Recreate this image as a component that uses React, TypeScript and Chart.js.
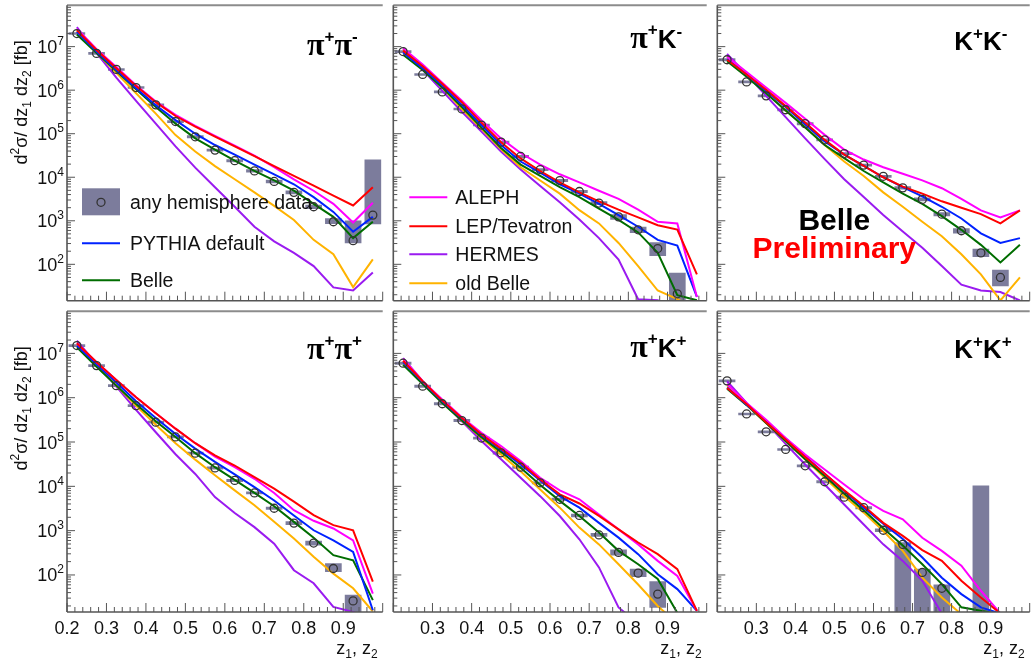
import React, { useEffect, useRef } from 'react';
import { Chart, registerables } from 'chart.js';

Chart.register(...registerables);

const SANS = '"Liberation Sans", Arial, Helvetica, sans-serif';
const SERIF = '"Liberation Serif", "DejaVu Serif", "Times New Roman", serif';
Chart.defaults.font.family = SANS;

// ---------- data ----------
const zBins = [0.225, 0.275, 0.325, 0.375, 0.425, 0.475, 0.525, 0.575, 0.625, 0.675, 0.725, 0.775, 0.825, 0.875, 0.925, 0.975];
const xTickLabelsFull = ['0.2', '0.3', '0.4', '0.5', '0.6', '0.7', '0.8', '0.9'];
const xTickLabelsShort = ['0.3', '0.4', '0.5', '0.6', '0.7', '0.8', '0.9'];
const yTickExponents = [2, 3, 4, 5, 6, 7];

// pi+ pi-
const pipiUData = [2.0e7, 7.0e6, 3.0e6, 1.15e6, 4.6e5, 1.9e5, 8.5e4, 4.2e4, 2.4e4, 1.4e4, 8.0e3, 4.5e3, 2.1e3, 950, 350, 1350];
const pipiUBoxLo = [1.9e7, 6.6e6, 2.85e6, 1.09e6, 4.35e5, 1.8e5, 8.0e4, 3.95e4, 2.25e4, 1.3e4, 7.4e3, 4.15e3, 1.9e3, 860, 310, 850];
const pipiUBoxHi = [2.1e7, 7.4e6, 3.15e6, 1.21e6, 4.85e5, 2.0e5, 9.0e4, 4.45e4, 2.55e4, 1.5e4, 8.6e3, 4.85e3, 2.3e3, 1120, 1000, 2.5e4];
const pipiUAleph = [2.6e7, 8.7e6, 3.4e6, 1.3e6, 5.5e5, 2.7e5, 1.52e5, 8.9e4, 5.3e4, 3.15e4, 1.7e4, 8.9e3, 4.9e3, 2.45e3, 910, 2.6e3];
const pipiULepTev = [2.4e7, 8.4e6, 3.2e6, 1.25e6, 5.3e5, 2.55e5, 1.45e5, 8.6e4, 5.1e4, 3.05e4, 1.8e4, 1.08e4, 6.4e3, 3.8e3, 2.25e3, 5.9e3];
const pipiUHermes = [2.8e7, 7.1e6, 1.94e6, 5.7e5, 1.7e5, 5.1e4, 1.66e4, 5.9e3, 2.1e3, 730, 337, 183, 91, 29.5, 25, 65];
const pipiUOldBelle = [2.3e7, 7.3e6, 2.5e6, 8.5e5, 2.9e5, 9.3e4, 3.9e4, 1.8e4, 9.0e3, 4.5e3, 2.2e3, 1.04e3, 365, 170, 30, 130];
const pipiUPythia = [2.2e7, 7.7e6, 2.9e6, 1.1e6, 4.5e5, 2.05e5, 1.0e5, 5.5e4, 3.3e4, 1.95e4, 1.17e4, 6.9e3, 3.5e3, 1.6e3, 560, 1.23e3];
const pipiUBelle = [1.9e7, 7.1e6, 2.75e6, 1.05e6, 4.1e5, 1.7e5, 7.8e4, 4.3e4, 2.4e4, 1.4e4, 8.5e3, 4.9e3, 2.45e3, 1.23e3, 400, 950];

// pi+ K-
const piKUData = [7.7e6, 2.3e6, 9.1e5, 3.7e5, 1.58e5, 6.4e4, 3.0e4, 1.5e4, 8.4e3, 4.7e3, 2.55e3, 1.23e3, 620, 230, 21, null];
const piKUBoxLo = [7.3e6, 2.18e6, 8.6e5, 3.5e5, 1.5e5, 6.05e4, 2.83e4, 1.41e4, 7.9e3, 4.4e3, 2.35e3, 1.08e3, 530, 158, 12, null];
const piKUBoxHi = [8.1e6, 2.42e6, 9.6e5, 3.9e5, 1.66e5, 6.75e4, 3.17e4, 1.59e4, 8.9e3, 5.0e3, 2.75e3, 1.38e3, 720, 316, 63, null];
const piKUAleph = [9.2e6, 3.9e6, 1.49e6, 5.7e5, 2.05e5, 7.8e4, 3.6e4, 1.95e4, 1.17e4, 7.6e3, 4.9e3, 3.2e3, 1.8e3, 950, 870, 17.8];
const piKULepTev = [8.1e6, 3.55e6, 1.41e6, 5.3e5, 1.8e5, 6.4e4, 2.7e4, 1.39e4, 7.6e3, 4.5e3, 2.8e3, 1.8e3, 1.2e3, 790, 630, 59];
const piKUHermes = [8.7e6, 2.95e6, 9.6e5, 3.2e5, 1.12e5, 3.9e4, 1.5e4, 6.3e3, 2.65e3, 1.07e3, 400, 129, 15.8, 14.9, 9, 8];
const piKUOldBelle = [8.7e6, 3.2e6, 1.15e6, 3.7e5, 1.29e5, 4.4e4, 1.7e4, 8.4e3, 4.2e3, 1.75e3, 870, 310, 91, 25, 15.8, 9.5];
const piKUPythia = [7.3e6, 3.2e6, 1.3e6, 4.6e5, 1.58e5, 5.5e4, 2.3e4, 1.28e4, 6.9e3, 4.2e3, 2.45e3, 1.35e3, 730, 365, 270, 17.8];
const piKUBelle = [6.5e6, 2.9e6, 1.15e6, 4.1e5, 1.38e5, 4.7e4, 1.95e4, 1.07e4, 5.9e3, 3.5e3, 1.9e3, 1.05e3, 540, 183, 19.5, 14.9];

// K+ K-
const KKUData = [5.0e6, 1.55e6, 7.4e5, 3.55e5, 1.7e5, 7.2e4, 3.5e4, 1.9e4, 1.05e4, 5.7e3, 3.1e3, 1.42e3, 590, 183, 50, null];
const KKUBoxLo = [4.7e6, 1.46e6, 7.0e5, 3.35e5, 1.6e5, 6.8e4, 3.3e4, 1.79e4, 9.9e3, 5.3e3, 2.85e3, 1.3e3, 520, 150, 32, null];
const KKUBoxHi = [5.3e6, 1.64e6, 7.8e5, 3.75e5, 1.8e5, 7.6e4, 3.7e4, 2.01e4, 1.11e4, 6.1e3, 3.35e3, 1.55e3, 660, 225, 74, null];
const KKUAleph = [5.9e6, 2.6e6, 1.15e6, 5.1e5, 2.2e5, 9.4e4, 4.3e4, 2.55e4, 1.7e4, 1.2e4, 8.5e3, 5.6e3, 3.2e3, 1.73e3, 1.2e3, 1.73e3];
const KKULepTev = [5.0e6, 2.3e6, 1.02e6, 4.3e5, 1.8e5, 7.2e4, 3.3e4, 1.83e4, 1.0e4, 6.1e3, 4.2e3, 2.8e3, 2.0e3, 1.42e3, 870, 1.73e3];
const KKUHermes = [6.8e6, 2.3e6, 7.4e5, 2.4e5, 7.8e4, 2.6e4, 9.0e3, 3.5e3, 1.35e3, 565, 240, 91, 34, 25, 23, 14.8];
const KKUOldBelle = [5.9e6, 2.3e6, 8.9e5, 3.4e5, 1.44e5, 5.5e4, 2.3e4, 1.07e4, 4.5e3, 2.1e3, 950, 440, 170, 59, 14.8, 50];
const KKUPythia = [5.2e6, 2.3e6, 9.6e5, 4.1e5, 1.62e5, 6.6e4, 3.3e4, 1.83e4, 1.0e4, 5.9e3, 3.65e3, 2.1e3, 1.13e3, 515, 310, 400];
const KKUBelle = [4.6e6, 2.04e6, 8.5e5, 3.4e5, 1.38e5, 5.5e4, 2.75e4, 1.39e4, 7.6e3, 4.2e3, 2.45e3, 1.28e3, 620, 280, 110, 280];

// pi+ pi+
const pipiLData = [1.5e7, 5.3e6, 1.87e6, 6.6e5, 2.8e5, 1.3e5, 5.6e4, 2.6e4, 1.36e4, 7.1e3, 3.2e3, 1.48e3, 525, 140, 26, null];
const pipiLBoxLo = [1.42e7, 5.0e6, 1.77e6, 6.25e5, 2.65e5, 1.23e5, 5.3e4, 2.45e4, 1.28e4, 6.7e3, 3.0e3, 1.36e3, 470, 118, 12, null];
const pipiLBoxHi = [1.58e7, 5.6e6, 1.97e6, 6.95e5, 2.95e5, 1.37e5, 5.9e4, 2.75e4, 1.44e4, 7.5e3, 3.4e3, 1.6e3, 580, 180, 35, null];
const pipiLAleph = [1.7e7, 6.3e6, 2.5e6, 1.02e6, 4.45e5, 2.0e5, 9.4e4, 4.7e4, 2.7e4, 1.48e4, 7.1e3, 2.9e3, 1.67e3, 1.12e3, 600, 38];
const pipiLLepTev = [1.7e7, 6.3e6, 2.5e6, 1.02e6, 4.45e5, 2.0e5, 9.4e4, 5.0e4, 2.95e4, 1.62e4, 8.9e3, 4.5e3, 2.24e3, 1.33e3, 1.02e3, 71];
const pipiLHermes = [1.94e7, 5.7e6, 1.78e6, 5.3e5, 1.66e5, 5.3e4, 1.9e4, 5.7e3, 2.5e3, 1.2e3, 510, 128, 65, 19, 14.7, 9];
const pipiLOldBelle = [1.57e7, 5.5e6, 1.87e6, 6.6e5, 2.45e5, 9.4e4, 4.0e4, 1.77e4, 8.1e3, 3.75e3, 1.58e3, 665, 257, 107, 50, 15];
const pipiLPythia = [1.5e7, 5.7e6, 2.2e6, 8.3e5, 3.5e5, 1.52e5, 7.1e4, 3.55e4, 1.87e4, 9.6e3, 4.8e3, 2.2e3, 1.02e3, 605, 330, 16];
const pipiLBelle = [1.37e7, 5.0e6, 1.87e6, 7.2e5, 2.95e5, 1.3e5, 5.6e4, 2.7e4, 1.4e4, 7.1e3, 3.55e3, 1.58e3, 690, 280, 215, 27];

// pi+ K+
const piKLData = [6.0e6, 1.82e6, 7.3e5, 3.05e5, 1.23e5, 5.7e4, 2.7e4, 1.2e4, 5.1e3, 2.2e3, 800, 322, 110, 37, null, null];
const piKLBoxLo = [5.6e6, 1.71e6, 6.85e5, 2.87e5, 1.16e5, 5.35e4, 2.54e4, 1.13e4, 4.8e3, 2.05e3, 740, 280, 92, 18.6, null, null];
const piKLBoxHi = [6.4e6, 1.93e6, 7.75e5, 3.23e5, 1.3e5, 6.05e4, 2.86e4, 1.27e4, 5.4e3, 2.35e3, 870, 370, 135, 71, null, null];
const piKLAleph = [7.6e6, 2.35e6, 9.1e5, 3.6e5, 1.62e5, 8.1e4, 3.7e4, 1.56e4, 8.1e3, 5.1e3, 2.3e3, 1.07e3, 490, 208, 95, 15.5];
const piKLLepTev = [6.8e6, 2.35e6, 8.6e5, 3.5e5, 1.48e5, 7.1e4, 3.4e4, 1.43e4, 6.6e3, 4.1e3, 2.15e3, 1.07e3, 540, 295, 135, 15.5];
const piKLHermes = [7.8e6, 2.35e6, 8.3e5, 2.95e5, 1.05e5, 4.1e4, 1.56e4, 6.0e3, 2.14e3, 640, 148, 18.5, 8, 8, 8, 8];
const piKLOldBelle = [6.6e6, 2.15e6, 7.9e5, 3.05e5, 1.23e5, 5.2e4, 2.2e4, 8.5e3, 3.3e3, 1.17e3, 490, 175, 61, 20, 8, 8];
const piKLPythia = [6.4e6, 2.25e6, 8.3e5, 3.4e5, 1.42e5, 6.7e4, 3.1e4, 1.35e4, 6.0e3, 3.3e3, 1.5e3, 695, 295, 104, 48, 15.5];
const piKLBelle = [5.5e6, 2.04e6, 7.6e5, 3.05e5, 1.29e5, 6.0e4, 2.63e4, 1.07e4, 4.7e3, 2.14e3, 910, 350, 175, 81, 14, 8];

// K+ K+
const KKLData = [2.4e6, 4.3e5, 1.7e5, 6.8e4, 2.9e4, 1.27e4, 5.7e3, 3.3e3, 1.02e3, 490, 114, 50, null, null, null, null];
const KKLBoxLo = [2.28e6, 4.08e5, 1.61e5, 6.45e4, 2.75e4, 1.2e4, 5.4e3, 3.1e3, 950, 1, 1, 1, null, 1, null, null];
const KKLBoxHi = [2.52e6, 4.52e5, 1.79e5, 7.15e4, 3.05e4, 1.34e4, 6.0e3, 3.5e3, 1.1e3, 540, 135, 60, null, 1.02e4, null, null];
const KKLAleph = [2.04e6, 7.6e5, 3.2e5, 1.23e5, 5.2e4, 2.4e4, 1.1e4, 5.1e3, 2.8e3, 1.8e3, 690, 350, 162, 44, 13.5, 8];
const KKLLepTev = [1.66e6, 7.2e5, 2.8e5, 1.14e5, 4.6e4, 1.92e4, 8.1e3, 3.6e3, 1.5e3, 760, 365, 208, 74, 31, 13.5, 8];
const KKLHermes = [2.35e6, 7.6e5, 2.7e5, 9.1e4, 3.1e4, 1.1e4, 3.9e3, 1.38e3, 490, 208, 74, 13.5, 8, 8, 8, 8];
const KKLOldBelle = [1.9e6, 6.9e5, 2.7e5, 1.05e5, 4.1e4, 1.56e4, 6.0e3, 2.55e3, 980, 350, 87, 31, 13, 8, 8, 8];
const KKLPythia = [1.7e6, 6.9e5, 2.95e5, 1.2e5, 4.8e4, 1.92e4, 7.8e3, 3.3e3, 1.44e3, 645, 247, 87, 37, 18.6, 13.5, 8];
const KKLBelle = [1.6e6, 6.8e5, 2.7e5, 1.05e5, 4.1e4, 1.7e4, 6.8e3, 2.9e3, 1.13e3, 460, 175, 62, 18.6, 15.6, 13.1, 8];

// ---------- styles ----------
const Y_MIN = 14.6;
const Y_MAX = 8.9e7;
const BOX = '#7c7c9c';
const AXIS = '#555555';
const SERIES = [
  { name: 'LEP/Tevatron', color: '#ff0000' },
  { name: 'ALEPH', color: '#ff00ff' },
  { name: 'PYTHIA default', color: '#0022ff' },
  { name: 'Belle', color: '#006d00' },
  { name: 'old Belle', color: '#ffb300' },
  { name: 'HERMES', color: '#9a1bf0' },
];

type Part = { t: string; size: number; dy?: number; bold?: boolean; serif?: boolean; color?: string };
const fontOf = (p: Part) => `${p.bold ? 'bold ' : ''}${p.size}px ${p.serif ? SERIF : SANS}`;

function drawRich(ctx: CanvasRenderingContext2D, parts: Part[], x: number, y: number, align: 'left' | 'right' | 'center') {
  let w = 0;
  for (const p of parts) {
    ctx.font = fontOf(p);
    w += ctx.measureText(p.t).width;
  }
  let cx = align === 'left' ? x : align === 'right' ? x - w : x - w / 2;
  ctx.textAlign = 'left';
  ctx.textBaseline = 'alphabetic';
  for (const p of parts) {
    ctx.font = fontOf(p);
    ctx.fillStyle = p.color || '#111';
    ctx.fillText(p.t, cx, y + (p.dy || 0));
    cx += ctx.measureText(p.t).width;
  }
}

const PI = (): Part => ({ t: 'π', size: 32, serif: true, bold: true, color: '#000' });
const K = (): Part => ({ t: 'K', size: 26, bold: true, color: '#000' });
const SUP = (s: string, dy: number): Part => ({ t: s, size: 17, bold: true, dy, color: '#000' });

type Spec = {
  left: number; top: number; w: number; h: number;
  pad: { left: number; top: number; right: number; bottom: number };
  data: (number | null)[]; lo: (number | null)[]; hi: (number | null)[];
  models: Record<string, number[]>;
  label: Part[]; labelX: number; labelY: number;
  yLabels: boolean; xLabels: string[] | null;
  legend?: { x0: number; x1: number; tx: number; items: { kind: 'box' | 'line'; name: string; y: number }[] };
  preliminary?: boolean;
};

const models = (a: number[], l: number[], h: number[], o: number[], p: number[], b: number[]) => ({
  'ALEPH': a, 'LEP/Tevatron': l, 'HERMES': h, 'old Belle': o, 'PYTHIA default': p, 'Belle': b,
});

const panels: Spec[] = [
  {
    left: 0, top: 0, w: 388, h: 306, pad: { left: 67, top: 5, right: 1, bottom: 1 },
    data: pipiUData, lo: pipiUBoxLo, hi: pipiUBoxHi,
    models: models(pipiUAleph, pipiULepTev, pipiUHermes, pipiUOldBelle, pipiUPythia, pipiUBelle),
    label: [PI(), SUP('+', -13), PI(), SUP('-', -13)], labelX: 240, labelY: 50,
    yLabels: true, xLabels: null,
    legend: { x0: 15, x1: 53, tx: 63, items: [
      { kind: 'box', name: 'any hemisphere data', y: 197 },
      { kind: 'line', name: 'PYTHIA default', y: 238 },
      { kind: 'line', name: 'Belle', y: 275 },
    ] },
  },
  {
    left: 388, top: 0, w: 324, h: 306, pad: { left: 3, top: 5, right: 1, bottom: 1 },
    data: piKUData, lo: piKUBoxLo, hi: piKUBoxHi,
    models: models(piKUAleph, piKULepTev, piKUHermes, piKUOldBelle, piKUPythia, piKUBelle),
    label: [PI(), SUP('+', -13), K(), SUP('-', -11)], labelX: 237, labelY: 43,
    yLabels: false, xLabels: null,
    legend: { x0: 16, x1: 54, tx: 62, items: [
      { kind: 'line', name: 'ALEPH', y: 192 },
      { kind: 'line', name: 'LEP/Tevatron', y: 221 },
      { kind: 'line', name: 'HERMES', y: 249 },
      { kind: 'line', name: 'old Belle', y: 278 },
    ] },
  },
  {
    left: 712, top: 0, w: 323, h: 306, pad: { left: 3, top: 5, right: 0, bottom: 1 },
    data: KKUData, lo: KKUBoxLo, hi: KKUBoxHi,
    models: models(KKUAleph, KKULepTev, KKUHermes, KKUOldBelle, KKUPythia, KKUBelle),
    label: [K(), SUP('+', -11), K(), SUP('-', -11)], labelX: 237, labelY: 45,
    yLabels: false, xLabels: null, preliminary: true,
  },
  {
    left: 0, top: 306, w: 388, h: 360, pad: { left: 67, top: 4, right: 1, bottom: 54 },
    data: pipiLData, lo: pipiLBoxLo, hi: pipiLBoxHi,
    models: models(pipiLAleph, pipiLLepTev, pipiLHermes, pipiLOldBelle, pipiLPythia, pipiLBelle),
    label: [PI(), SUP('+', -13), PI(), SUP('+', -13)], labelX: 240, labelY: 48,
    yLabels: true, xLabels: xTickLabelsFull,
  },
  {
    left: 388, top: 306, w: 324, h: 360, pad: { left: 3, top: 4, right: 1, bottom: 54 },
    data: piKLData, lo: piKLBoxLo, hi: piKLBoxHi,
    models: models(piKLAleph, piKLLepTev, piKLHermes, piKLOldBelle, piKLPythia, piKLBelle),
    label: [PI(), SUP('+', -13), K(), SUP('+', -11)], labelX: 237, labelY: 46,
    yLabels: false, xLabels: xTickLabelsShort,
  },
  {
    left: 712, top: 306, w: 323, h: 360, pad: { left: 3, top: 4, right: 0, bottom: 54 },
    data: KKLData, lo: KKLBoxLo, hi: KKLBoxHi,
    models: models(KKLAleph, KKLLepTev, KKLHermes, KKLOldBelle, KKLPythia, KKLBelle),
    label: [K(), SUP('+', -11), K(), SUP('+', -11)], labelX: 237, labelY: 47,
    yLabels: false, xLabels: xTickLabelsShort,
  },
];

function makeDeco(spec: Spec) {
  return {
    id: 'rootDeco',
    afterDraw(chart: any) {
      const ctx: CanvasRenderingContext2D = chart.ctx;
      const a = chart.chartArea;
      const xs = chart.scales.x;
      const ys = chart.scales.y;
      const line = (x1: number, y1: number, x2: number, y2: number) => {
        ctx.beginPath();
        ctx.moveTo(x1, y1);
        ctx.lineTo(x2, y2);
        ctx.stroke();
      };
      ctx.save();
      // top border
      ctx.strokeStyle = '#8c8c8c';
      ctx.lineWidth = 2;
      line(a.left, a.top, a.right, a.top);
      // axes
      ctx.strokeStyle = AXIS;
      ctx.lineWidth = 1.6;
      line(a.left, a.top, a.left, a.bottom);
      line(a.left, a.bottom, a.right, a.bottom);
      // ticks
      ctx.lineWidth = 1;
      for (let i = 10; i <= 50; i++) {
        const x = xs.getPixelForValue(i / 50);
        const len = i % 5 === 0 ? 9 : 5;
        line(x, a.bottom, x, a.bottom - len);
      }
      for (let e = 1; e <= 7; e++) {
        for (let m = 1; m <= 9; m++) {
          const v = m * Math.pow(10, e);
          if (v < Y_MIN || v > Y_MAX) continue;
          const y = ys.getPixelForValue(v);
          line(a.left, y, a.left + (m === 1 ? 8 : 4), y);
        }
      }
      // y tick labels + title
      if (spec.yLabels) {
        for (const e of yTickExponents) {
          const y = ys.getPixelForValue(Math.pow(10, e));
          drawRich(ctx, [{ t: '10', size: 18 }, { t: String(e), size: 12, dy: -8 }], a.left - 3, y + 6.5, 'right');
        }
        ctx.save();
        ctx.translate(27, a.top + 35);
        ctx.rotate(-Math.PI / 2);
        drawRich(ctx, [
          { t: 'd', size: 18 }, { t: '2', size: 12, dy: -8 }, { t: 'σ/ dz', size: 18 }, { t: '1', size: 12, dy: 4 },
          { t: ' dz', size: 18 }, { t: '2', size: 12, dy: 4 }, { t: ' [fb]', size: 18 },
        ], 0, 0, 'right');
        ctx.restore();
      }
      // x tick labels + title
      if (spec.xLabels) {
        ctx.font = `18px ${SANS}`;
        ctx.fillStyle = '#111';
        ctx.textAlign = 'center';
        ctx.textBaseline = 'alphabetic';
        for (const lbl of spec.xLabels) {
          ctx.fillText(lbl, xs.getPixelForValue(parseFloat(lbl)), a.bottom + 22);
        }
        drawRich(ctx, [{ t: 'z', size: 18 }, { t: '1', size: 12, dy: 4 }, { t: ', z', size: 18 }, { t: '2', size: 12, dy: 4 }], a.right - 5, a.bottom + 42, 'right');
      }
      // panel label
      drawRich(ctx, spec.label, a.left + spec.labelX, a.top + spec.labelY, 'left');
      // legend
      if (spec.legend) {
        const L = spec.legend;
        for (const it of L.items) {
          const y = a.top + it.y;
          if (it.kind === 'box') {
            ctx.fillStyle = BOX;
            ctx.fillRect(a.left + L.x0, y - 14, L.x1 - L.x0, 27);
            ctx.beginPath();
            ctx.arc(a.left + (L.x0 + L.x1) / 2, y, 4, 0, Math.PI * 2);
            ctx.strokeStyle = '#333';
            ctx.lineWidth = 1.3;
            ctx.stroke();
          } else {
            const s = SERIES.find((q) => q.name === it.name);
            ctx.strokeStyle = s ? s.color : '#000';
            ctx.lineWidth = 2;
            line(a.left + L.x0, y, a.left + L.x1, y);
          }
          drawRich(ctx, [{ t: it.name, size: 19.5 }], a.left + L.tx, y + 7, 'left');
        }
      }
      if (spec.preliminary) {
        drawRich(ctx, [{ t: 'Belle', size: 30, bold: true, color: '#000' }], a.left + 117, a.top + 225, 'center');
        drawRich(ctx, [{ t: 'Preliminary', size: 30, bold: true, color: '#ff0000' }], a.left + 117, a.top + 253, 'center');
      }
      ctx.restore();
    },
  };
}

function buildConfig(spec: Spec): any {
  const datasets: any[] = [];
  datasets.push({
    type: 'bar',
    label: 'systematic',
    data: zBins
      .map((x, i) => (spec.lo[i] != null && spec.hi[i] != null ? { x, y: [spec.lo[i], spec.hi[i]] } : null))
      .filter((d) => d !== null),
    backgroundColor: BOX,
    borderWidth: 0,
    barThickness: 16,
    grouped: false,
    order: 20,
  });
  SERIES.forEach((s, k) => {
    datasets.push({
      type: 'line',
      label: s.name,
      data: zBins.map((x, i) => ({ x, y: spec.models[s.name][i] })),
      borderColor: s.color,
      backgroundColor: s.color,
      borderWidth: 2,
      pointRadius: 0,
      tension: 0,
      fill: false,
      order: k + 1,
    });
  });
  datasets.push({
    type: 'line',
    label: 'any hemisphere data',
    data: zBins.map((x, i) => ({ x, y: spec.data[i] })).filter((d) => d.y != null),
    showLine: false,
    pointRadius: 4,
    pointBorderWidth: 1.3,
    pointBorderColor: '#333',
    pointBackgroundColor: 'rgba(0,0,0,0)',
    borderColor: '#333',
    order: 0,
  });
  return {
    type: 'line',
    data: { datasets },
    options: {
      responsive: false,
      animation: false,
      devicePixelRatio: 1,
      events: [],
      layout: { padding: spec.pad },
      plugins: { legend: { display: false }, tooltip: { enabled: false } },
      scales: {
        x: { type: 'linear', min: 0.2, max: 1.0, offset: false, display: false },
        y: { type: 'logarithmic', min: Y_MIN, max: Y_MAX, display: false },
      },
    },
    plugins: [makeDeco(spec)],
  };
}

function Panel({ spec }: { spec: Spec }) {
  const ref = useRef<HTMLCanvasElement>(null);
  useEffect(() => {
    if (!ref.current) return;
    const chart = new Chart(ref.current, buildConfig(spec));
    return () => chart.destroy();
  }, [spec]);
  return (
    <canvas
      ref={ref}
      width={spec.w}
      height={spec.h}
      style={{ position: 'absolute', left: spec.left, top: spec.top, width: spec.w, height: spec.h }}
    />
  );
}

export default function App() {
  return (
    <div style={{ position: 'absolute', left: 0, top: 0, width: 1035, height: 666, background: '#fff', overflow: 'hidden' }}>
      {panels.map((p, i) => (
        <Panel key={i} spec={p} />
      ))}
    </div>
  );
}
